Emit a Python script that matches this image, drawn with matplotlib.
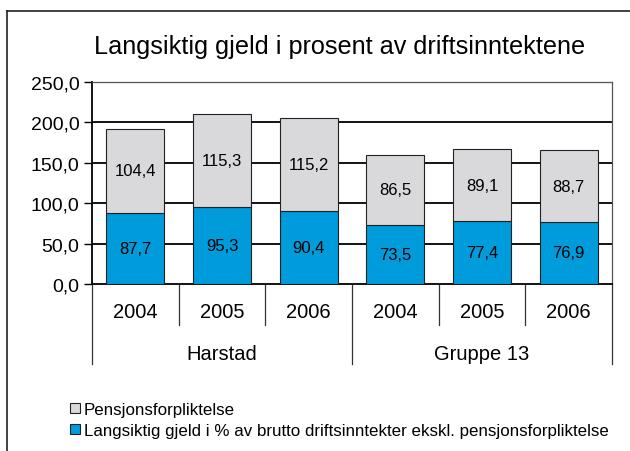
import matplotlib.pyplot as plt
from matplotlib.lines import Line2D
from matplotlib.patches import Patch

plt.rcParams['font.family'] = ['Liberation Sans', 'DejaVu Sans']

# data
years = ['2004', '2005', '2006', '2004', '2005', '2006']
groups = ['Harstad', 'Gruppe 13']
gjeld = [87.7, 95.3, 90.4, 73.5, 77.4, 76.9]
pensjon = [104.4, 115.3, 115.2, 86.5, 89.1, 88.7]
yticks = [0, 50, 100, 150, 200, 250]

blue = '#009bdb'
grey = '#d9d9db'

W, H = 630, 452
fig = plt.figure(figsize=(W / 100, H / 100), dpi=100)

# plot area in pixels
left, right, top, bottom = 92, 612, 83, 285
ax = fig.add_axes([left / W, 1 - bottom / H, (right - left) / W, (bottom - top) / H])

x = list(range(len(years)))
b1 = ax.bar(x, gjeld, width=0.67, color=blue, edgecolor='#222222', linewidth=0.8, zorder=3)
b2 = ax.bar(x, pensjon, bottom=gjeld, width=0.67, color=grey, edgecolor='#222222',
            linewidth=0.8, zorder=3)

for i in x:
    ax.text(i, gjeld[i] / 2, f'{gjeld[i]:.1f}'.replace('.', ','), ha='center', va='center',
            fontsize=12, zorder=4)
    ax.text(i, gjeld[i] + pensjon[i] / 2, f'{pensjon[i]:.1f}'.replace('.', ','),
            ha='center', va='center', fontsize=12, zorder=4)

ax.set_xlim(-0.5, len(years) - 0.5)
ax.set_ylim(0, 250)
ax.set_yticks(yticks)
ax.set_yticklabels([f'{v:.1f}'.replace('.', ',') for v in yticks], fontsize=14)
ax.tick_params(axis='y', length=6, width=1, pad=3)
ax.set_xticks([])
for v in yticks[1:-1]:
    ax.axhline(v, color='black', lw=1.3, zorder=1)
ax.spines['left'].set_linewidth(1.3)
ax.spines['bottom'].set_linewidth(1.3)
ax.spines['top'].set_color('#555555')
ax.spines['right'].set_color('#555555')
ax.spines['top'].set_linewidth(0.9)
ax.spines['right'].set_linewidth(0.9)

# category axis with two levels
tr = ax.get_xaxis_transform()
px = 1 / (bottom - top)  # one pixel in axes fraction
for sep in [-0.5, 2.5, 5.5]:
    ax.plot([sep, sep], [0, -(365 - bottom) * px], color='#333333', lw=0.9,
            transform=tr, clip_on=False)
for sep in [0.5, 1.5, 3.5, 4.5]:
    ax.plot([sep, sep], [0, -(326 - bottom) * px], color='#333333', lw=0.9,
            transform=tr, clip_on=False)
for i, y in enumerate(years):
    ax.text(i, -(313 - bottom) * px, y, transform=tr, ha='center', va='center', fontsize=14.5)
for g, gx in zip(groups, [1, 4]):
    ax.text(gx, -(354 - bottom) * px, g, transform=tr, ha='center', va='center', fontsize=14.5)

fig.text(340 / W, 1 - 47 / H, 'Langsiktig gjeld i prosent av driftsinntektene',
         ha='center', va='center', fontsize=18.2)

handles = [Patch(facecolor=grey, edgecolor='#222222', lw=0.8),
           Patch(facecolor=blue, edgecolor='#222222', lw=0.8)]
labels = ['Pensjonsforpliktelse',
          'Langsiktig gjeld i % av brutto driftsinntekter ekskl. pensjonsforpliktelse']
fig.legend(handles, labels, loc='upper left', bbox_to_anchor=(70 / W, 1 - 403 / H),
           frameon=False, fontsize=12.2, handlelength=0.6, handleheight=0.6,
           handletextpad=0.2, labelspacing=0.35, borderpad=0, borderaxespad=0)

# outer frame (cut at right and bottom)
fig.add_artist(Line2D([7 / W, 7 / W], [0, 1 - 12 / H], color='#222222', lw=1.2))
fig.add_artist(Line2D([7 / W, 1], [1 - 12 / H, 1 - 12 / H], color='#222222', lw=1.2))

fig.savefig('out.png', dpi=100)
